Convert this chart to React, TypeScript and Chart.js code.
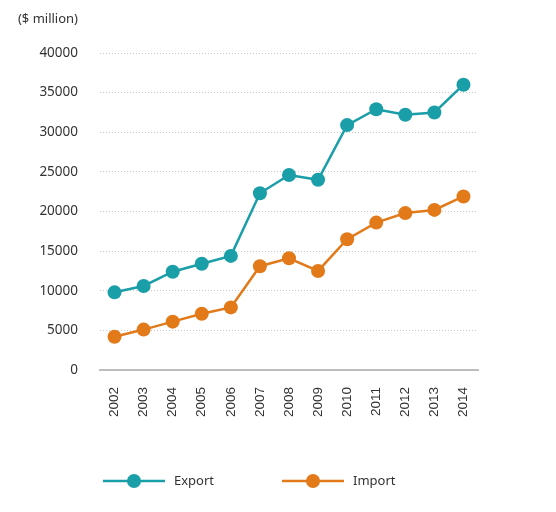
import React, { useEffect, useRef } from "react";
import { Chart, registerables } from "chart.js";

Chart.register(...registerables);

const years = ["2002", "2003", "2004", "2005", "2006", "2007", "2008", "2009", "2010", "2011", "2012", "2013", "2014"];
const exportValues = [9800, 10600, 12400, 13400, 14400, 22300, 24600, 24000, 30900, 32900, 32200, 32500, 36000];
const importValues = [4200, 5100, 6100, 7100, 7900, 13100, 14100, 12500, 16500, 18600, 19800, 20200, 21900];
const seriesNames = ["Export", "Import"];
const unitLabel = "($ million)";

const TEAL = "#1a9ea8";
const ORANGE = "#e27a1a";
const TEXT = "#333333";
const SANS = "'Noto Sans', 'Open Sans', sans-serif";

// Draws the unit caption above the value axis and a line-and-marker legend below the plot.
const decorations = {
  id: "decorations",
  afterDraw(chart: any) {
    const { ctx, chartArea, scales } = chart;
    ctx.save();
    ctx.fillStyle = TEXT;
    ctx.font = `13px ${SANS}`;
    ctx.textAlign = "right";
    ctx.textBaseline = "middle";
    ctx.fillText(unitLabel, scales.y.right - 22, 19);

    const legendY = 481;
    const colors = [TEAL, ORANGE];
    let x = chartArea.left + 3;
    seriesNames.forEach((name, i) => {
      ctx.strokeStyle = colors[i];
      ctx.lineWidth = 2.5;
      ctx.beginPath();
      ctx.moveTo(x, legendY);
      ctx.lineTo(x + 62, legendY);
      ctx.stroke();
      ctx.fillStyle = colors[i];
      ctx.beginPath();
      ctx.arc(x + 31, legendY, 7, 0, Math.PI * 2);
      ctx.fill();
      ctx.fillStyle = TEXT;
      ctx.textAlign = "left";
      ctx.fillText(name, x + 71, legendY);
      x += 179;
    });
    ctx.restore();
  },
};

export default function App() {
  const canvasRef = useRef<HTMLCanvasElement | null>(null);

  useEffect(() => {
    if (!canvasRef.current) return;
    const chart = new Chart(canvasRef.current, {
      type: "line",
      data: {
        labels: years,
        datasets: [
          {
            label: seriesNames[0],
            data: exportValues,
            borderColor: TEAL,
            backgroundColor: TEAL,
            pointBackgroundColor: TEAL,
            pointBorderWidth: 0,
            pointRadius: 7,
            borderWidth: 2.5,
            tension: 0,
          },
          {
            label: seriesNames[1],
            data: importValues,
            borderColor: ORANGE,
            backgroundColor: ORANGE,
            pointBackgroundColor: ORANGE,
            pointBorderWidth: 0,
            pointRadius: 7,
            borderWidth: 2.5,
            tension: 0,
          },
        ],
      },
      options: {
        responsive: false,
        animation: false,
        layout: { padding: { top: 53, right: 78, bottom: 94, left: 0 } },
        plugins: {
          legend: { display: false },
          tooltip: { enabled: false },
        },
        scales: {
          x: {
            offset: true,
            grid: { display: false },
            border: { display: true, color: "#bdbdbd", width: 2 },
            ticks: {
              color: TEXT,
              font: { family: "'Liberation Sans', Arial, sans-serif", size: 13.5 },
              minRotation: 90,
              maxRotation: 90,
              padding: 9,
            },
            afterFit: (scale: any) => {
              scale.height = 48;
            },
          },
          y: {
            min: 0,
            max: 40000,
            grid: {
              drawTicks: false,
              color: (c: any) => (c.tick && c.tick.value === 0 ? "rgba(0,0,0,0)" : "#c9c9c9"),
              lineWidth: 1,
            },
            border: { display: false, dash: [1, 2] },
            ticks: {
              stepSize: 5000,
              color: TEXT,
              font: { family: SANS, size: 13.5 },
              padding: 22,
              callback: (v: any) => String(v),
            },
            afterFit: (scale: any) => {
              scale.width = 100;
            },
          },
        },
      },
      plugins: [decorations],
    });
    return () => chart.destroy();
  }, []);

  return (
    <div style={{ position: "absolute", left: 0, top: 0, width: 556, height: 512, background: "#fff" }}>
      <canvas ref={canvasRef} width={556} height={512} style={{ display: "block" }} />
    </div>
  );
}
